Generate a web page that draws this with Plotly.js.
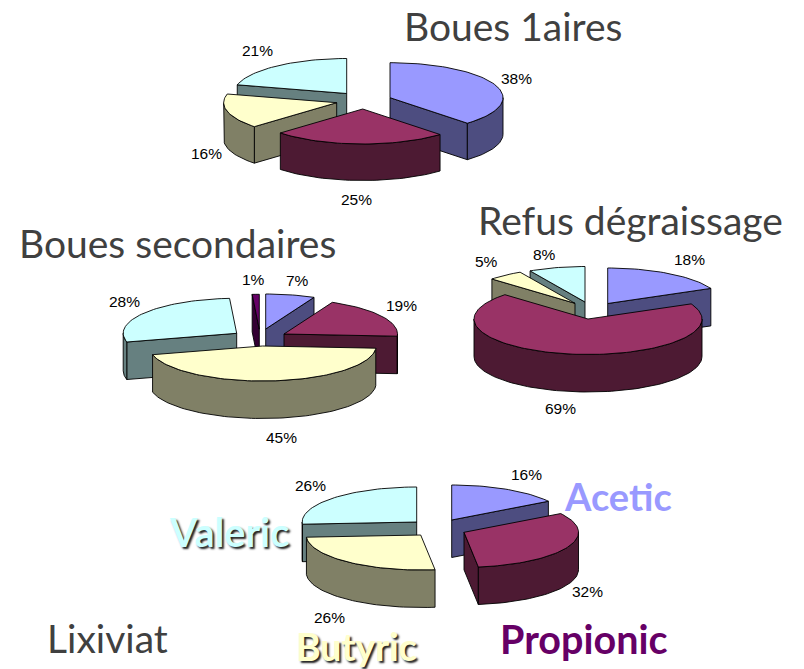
<!DOCTYPE html>
<html>
<head>
<meta charset="utf-8">
<script src="https://cdn.plot.ly/plotly-3.0.1.min.js"></script>
<style>html,body{margin:0;padding:0;background:#fff;overflow:hidden}</style>
</head>
<body>
<div id="chart" style="width:804px;height:669px"></div>
<script>
// ---------- data ----------
const acids = ["Acetic", "Propionic", "Butyric", "Valeric", "Other"];
const bouesPrimaires = [38, 25, 16, 21];
const bouesSecondaires = [7, 19, 45, 28, 1];
const refusDegraissage = [18, 69, 5, 8];
const lixiviat = [16, 32, 26, 26];

// ---------- styling and placement ----------
const topColors = ["#9999FF", "#993366", "#FFFFCC", "#CCFFFF", "#660066"];
const wallColors = ["#4D4D80", "#4D1A33", "#808066", "#668080", "#330033"];
const pies = [
  { values: bouesPrimaires, rx: 113, ry: 35, depth: 36.5,
    apex: [[390, 97.7], [362.7, 109], [336.7, 102.7], [346.7, 93.5]],
    labels: [[516, 78], [356, 199], [206, 153], [257, 50]] },
  { values: bouesSecondaires, rx: 113.5, ry: 35, depth: 37.5,
    apex: [[265.7, 329], [284, 334], [262.5, 346], [236.7, 333.3], [259.3, 329.3]],
    labels: [[297, 280], [401, 305], [281, 437], [124, 301], [253, 279]] },
  { values: refusDegraissage, rx: 114, ry: 35.5, depth: 37.5,
    apex: [[607.7, 303.5], [588, 319], [575, 303.3], [585, 302]],
    labels: [[689, 259], [560, 408], [486, 261], [544, 254]] },
  { values: lixiviat, rx: 114.5, ry: 35, depth: 37.5,
    apex: [[451.7, 520], [464, 532.3], [420.7, 535], [416.7, 522]],
    labels: [[526, 474], [587, 591], [329, 617], [310, 485]] }
];
const titles = [
  ["Boues 1aires", 404, 26], ["Boues secondaires", 19, 243],
  ["Refus dégraissage", 478, 220], ["Lixiviat", 47, 638]
];
const legendLabels = [
  [0, 564, 496, 38, ""],
  [1, 500, 638, 39.5, ""],
  [2, 296, 646, 37.5, "2px 2px 2px #222"],
  [3, 169, 531, 39.5, "2px 2px 2px #222"]
];

// ---------- geometry derived from the values ----------
const rad = d => d * Math.PI / 180;
const traces = [];
const annotations = [];

function rim(p, i, a) {
  return [p.apex[i][0] + p.rx * Math.sin(rad(a)), p.apex[i][1] - p.ry * Math.cos(rad(a))];
}
function arc(p, i, a0, a1) {
  const n = Math.max(2, Math.ceil(Math.abs(a1 - a0) / 2));
  const pts = [];
  for (let k = 0; k <= n; k++) pts.push(rim(p, i, a0 + (a1 - a0) * k / n));
  return pts;
}
function poly(pts, color, name) {
  const closed = pts.concat([pts[0]]);
  traces.push({
    type: "scatter", mode: "lines", fill: "toself", fillcolor: color,
    x: closed.map(q => q[0]), y: closed.map(q => q[1]),
    line: { color: "#000", width: 0.9, shape: "linear" },
    hoverinfo: "skip", showlegend: false, name: name
  });
}
function radialWall(p, i, a, color, name) {
  const A = p.apex[i], R = rim(p, i, a), d = p.depth;
  poly([A, R, [R[0], R[1] + d], [A[0], A[1] + d]], color, name);
}

pies.forEach(p => {
  const total = p.values.reduce((s, v) => s + v, 0);
  let run = 0;
  const slices = p.values.map((v, i) => {
    const a0 = run / total * 360; run += v;
    const a1 = run / total * 360;
    return { i, a0, a1, mid: (a0 + a1) / 2 };
  });
  // back to front
  slices.slice().sort((s, t) => Math.cos(rad(t.mid)) - Math.cos(rad(s.mid))).forEach(s => {
    const name = acids[s.i], wall = wallColors[s.i];
    if (Math.sin(rad(s.a0)) < 0) radialWall(p, s.i, s.a0, wall, name);
    if (Math.sin(rad(s.a1)) > 0) radialWall(p, s.i, s.a1, wall, name);
    const f0 = Math.max(s.a0, 90), f1 = Math.min(s.a1, 270);
    if (f1 > f0) {
      const top = arc(p, s.i, f0, f1);
      const bottom = top.map(q => [q[0], q[1] + p.depth]).reverse();
      poly(top.concat(bottom), wall, name);
    }
    poly([p.apex[s.i]].concat(arc(p, s.i, s.a0, s.a1)), topColors[s.i], name);
  });
  p.values.forEach((v, i) => annotations.push({
    xref: "x", yref: "y", x: p.labels[i][0], y: p.labels[i][1],
    text: v + "%", showarrow: false, xanchor: "center", yanchor: "middle",
    font: { family: "Liberation Sans, Arial, sans-serif", size: 15.5, color: "#000" }
  }));
});

titles.forEach(t => annotations.push({
  xref: "x", yref: "y", x: t[1], y: t[2], text: t[0], showarrow: false,
  xanchor: "left", yanchor: "middle", borderpad: 0, borderwidth: 0,
  font: { family: "Lato, sans-serif", size: 39, color: "#404040" }
}));
legendLabels.forEach(l => annotations.push({
  xref: "x", yref: "y", x: l[1], y: l[2], text: "<b>" + acids[l[0]] + "</b>",
  showarrow: false, xanchor: "left", yanchor: "middle", borderpad: 0, borderwidth: 0,
  font: { family: "Lato, sans-serif", size: l[3], color: l[0] === 1 ? topColors[4] : topColors[l[0]],
          shadow: l[4] || "none" }
}));

Plotly.newPlot("chart", traces, {
  width: 804, height: 669,
  margin: { l: 0, r: 0, t: 0, b: 0 },
  paper_bgcolor: "#fff", plot_bgcolor: "#fff",
  showlegend: false,
  xaxis: { range: [0, 804], visible: false, fixedrange: true },
  yaxis: { range: [669, 0], visible: false, fixedrange: true },
  annotations: annotations
}, { displayModeBar: false, staticPlot: true });
</script>
</body>
</html>
